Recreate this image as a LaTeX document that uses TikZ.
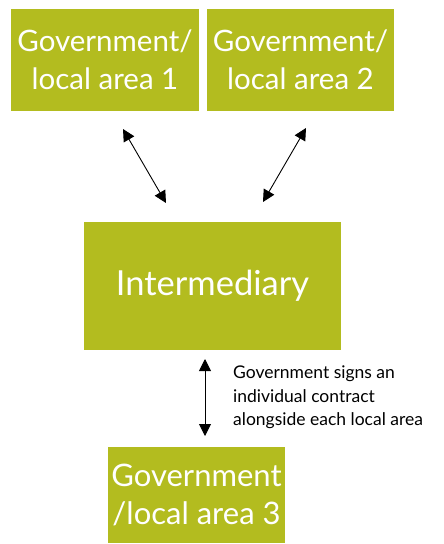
\documentclass[tikz,border=0pt]{standalone}
\usepackage{fontspec}
\setmainfont{Lato}
\usetikzlibrary{arrows.meta}
\definecolor{olive}{HTML}{B3BC1F}
\tikzset{
  gbox/.style={fill=olive, draw=none, text=white, align=center, inner sep=0pt, font=\fontsize{29.5}{38}\selectfont},
  biarrow/.style={{Triangle[length=12pt,width=12pt]}-{Triangle[length=12pt,width=12pt]}, line width=0.9pt, black}
}
\begin{document}
\begin{tikzpicture}[x=1pt,y=-1pt]
\useasboundingbox (0,0) rectangle (444,544);
\node[gbox, minimum width=188pt, minimum height=102pt] (g1) at (105,60) {Government/\\local area 1};
\node[gbox, minimum width=187pt, minimum height=102pt] (g2) at (300.5,60) {Government/\\local area 2};
\node[gbox, minimum width=257pt, minimum height=128pt, font=\fontsize{34.5}{40}\selectfont] (im) at (212.5,286) {Intermediary};
\node[gbox, minimum width=177pt, minimum height=96pt, font=\fontsize{31}{38}\selectfont] (g3) at (196.5,495) {Government\\/local area 3};
\coordinate (a1s) at (123,129);
\coordinate (a1e) at (166,203);
\coordinate (a2s) at (306,128);
\coordinate (a2e) at (263,202);
\coordinate (a3s) at (205,359);
\coordinate (a3e) at (205,436);
\draw[biarrow] (a1s) -- (a1e);
\draw[biarrow] (a2s) -- (a2e);
\draw[biarrow] (a3s) -- (a3e);
\node[anchor=north west, align=left, inner sep=0pt, font=\fontsize{17.5}{23.5}\selectfont] (lbl) at (233,366) {Government signs an\\individual contract\\alongside each local area};
\end{tikzpicture}
\end{document}
